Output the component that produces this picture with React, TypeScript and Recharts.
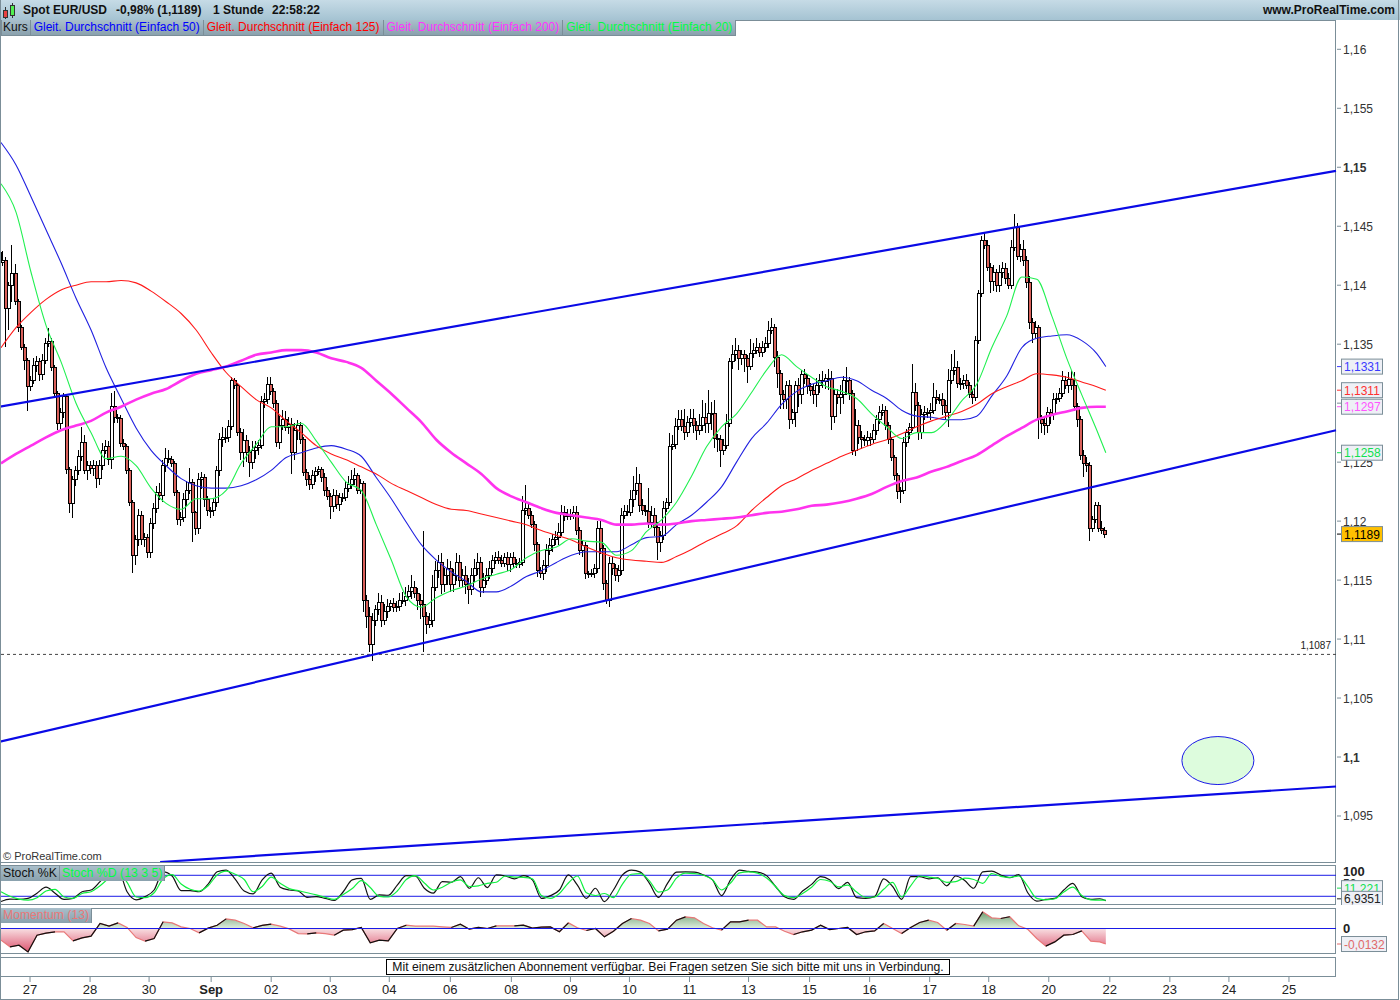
import React from "react";
import {
  Area,
  Bar,
  ComposedChart,
  Line,
  ReferenceDot,
  ReferenceLine,
  XAxis,
  YAxis,
} from "recharts";

// all prices are in pips (11189 = 1,1189), one candle per index
const closes = [
  11419, 11421, 11380, 11400, 11410, 11386, 11364, 11347, 11336, 11314,
  11319, 11332, 11335, 11324, 11336, 11351, 11352, 11330, 11308, 11283,
  11292, 11306, 11244, 11215, 11235, 11243, 11255, 11267, 11243, 11247,
  11245, 11247, 11236, 11247, 11260, 11263, 11252, 11297, 11288, 11287,
  11266, 11263, 11243, 11216, 11171, 11184, 11205, 11184, 11186, 11173,
  11198, 11211, 11224, 11222, 11247, 11253, 11252, 11249, 11224, 11201,
  11203, 11218, 11226, 11233, 11207, 11194, 11235, 11237, 11218, 11209,
  11209, 11216, 11243, 11269, 11271, 11271, 11280, 11319, 11315, 11275,
  11258, 11268, 11258, 11250, 11260, 11262, 11264, 11301, 11303, 11316,
  11310, 11300, 11267, 11281, 11286, 11279, 11282, 11258, 11277, 11281,
  11269, 11241, 11235, 11231, 11239, 11242, 11244, 11237, 11226, 11221,
  11212, 11222, 11214, 11220, 11220, 11228, 11231, 11235, 11239, 11226,
  11232, 11133, 11119, 11095, 11116, 11125, 11131, 11116, 11123, 11128,
  11130, 11127, 11128, 11133, 11133, 11136, 11140, 11144, 11139, 11133,
  11129, 11119, 11112, 11116, 11144, 11158, 11165, 11146, 11154, 11160,
  11146, 11154, 11165, 11150, 11154, 11146, 11142, 11154, 11160, 11165,
  11144, 11150, 11154, 11160, 11167, 11169, 11167, 11164, 11169, 11163,
  11169, 11164, 11163, 11165, 11209, 11211, 11205, 11197, 11180, 11158,
  11156, 11162, 11175, 11179, 11184, 11186, 11190, 11207, 11204, 11205,
  11205, 11207, 11192, 11175, 11179, 11156, 11156, 11156, 11160, 11194,
  11177, 11147, 11133, 11164, 11160, 11154, 11158, 11205, 11208, 11207,
  11218, 11226, 11232, 11213, 11209, 11208, 11199, 11205, 11195, 11182,
  11188, 11211, 11216, 11263, 11265, 11280, 11286, 11280, 11275, 11284,
  11287, 11281, 11277, 11281, 11288, 11283, 11291, 11291, 11270, 11269,
  11260, 11264, 11283, 11335, 11341, 11345, 11338, 11341, 11338, 11331,
  11342, 11345, 11347, 11343, 11347, 11351, 11362, 11364, 11339, 11325,
  11307, 11303, 11315, 11286, 11292, 11315, 11307, 11324, 11321, 11314,
  11311, 11307, 11315, 11319, 11318, 11321, 11321, 11289, 11307, 11305,
  11307, 11319, 11319, 11308, 11260, 11281, 11271, 11269, 11268, 11271,
  11269, 11277, 11286, 11292, 11294, 11281, 11269, 11254, 11239, 11225,
  11226, 11267, 11275, 11279, 11309, 11298, 11275, 11290, 11292, 11292,
  11294, 11305, 11303, 11303, 11298, 11292, 11319, 11328, 11330, 11317,
  11317, 11319, 11315, 11307, 11305, 11353, 11393, 11438, 11434, 11415,
  11403, 11411, 11400, 11411, 11414, 11406, 11400, 11432, 11449, 11424,
  11430, 11421, 11402, 11368, 11359, 11364, 11286, 11283, 11281, 11292,
  11290, 11303, 11304, 11308, 11319, 11315, 11320, 11315, 11297, 11286,
  11256, 11249, 11247, 11194, 11201, 11213, 11194, 11192, 11189,
];

const upperWicks = [
  6, 8, 3, 3, 24, 8, 2, 2, 3, 2,
  4, 6, 5, 3, 6, 4, 12, 3, 2, 2,
  4, 3, 2, 2, 3, 4, 5, 13, 6, 4,
  4, 5, 4, 5, 6, 6, 5, 12, 13, 3,
  3, 4, 2, 2, 2, 4, 5, 4, 4, 3,
  5, 4, 6, 8, 5, 9, 7, 3, 2, 2,
  5, 6, 8, 12, 3, 2, 6, 5, 3, 3,
  3, 4, 4, 6, 9, 8, 6, 3, 2, 2,
  4, 10, 5, 6, 8, 6, 5, 5, 6, 6,
  6, 3, 3, 8, 8, 7, 6, 5, 6, 5,
  3, 2, 3, 4, 4, 4, 3, 2, 4, 3,
  3, 5, 4, 4, 4, 6, 7, 8, 6, 2,
  4, 2, 4, 8, 6, 4, 8, 6, 7, 6,
  3, 5, 4, 6, 7, 8, 6, 10, 5, 4,
  5, 63, 4, 6, 10, 8, 6, 8, 6, 8,
  6, 5, 8, 6, 5, 8, 6, 6, 8, 8,
  5, 6, 6, 6, 4, 5, 6, 4, 4, 5,
  4, 5, 4, 4, 12, 20, 4, 4, 3, 2,
  3, 5, 6, 7, 5, 6, 8, 7, 6, 5,
  5, 6, 6, 3, 4, 3, 2, 3, 4, 6,
  8, 3, 3, 6, 6, 4, 5, 6, 6, 6,
  8, 12, 14, 8, 6, 5, 20, 8, 6, 4,
  4, 6, 4, 12, 8, 7, 8, 8, 15, 5,
  8, 8, 4, 10, 15, 12, 20, 10, 12, 4,
  4, 6, 8, 3, 8, 10, 4, 4, 4, 3,
  12, 6, 8, 4, 6, 5, 8, 8, 3, 5,
  3, 4, 4, 5, 3, 4, 6, 4, 5, 4,
  3, 5, 6, 6, 8, 4, 8, 6, 5, 5,
  8, 4, 12, 3, 3, 14, 5, 5, 4, 5,
  4, 5, 4, 6, 5, 4, 3, 2, 2, 2,
  3, 4, 3, 4, 24, 8, 3, 5, 6, 4,
  6, 12, 6, 5, 6, 5, 10, 14, 15, 6,
  4, 5, 6, 3, 4, 4, 3, 4, 6, 4,
  4, 6, 3, 6, 6, 5, 4, 6, 11, 4,
  5, 8, 4, 6, 4, 6, 2, 4, 4, 5,
  3, 6, 5, 5, 8, 4, 6, 8, 11, 3,
  3, 4, 5, 3, 3, 3, 3, 6, 3,
];

const lowerWicks = [
  5, 3, 32, 18, 14, 3, 4, 2, 8, 21,
  4, 3, 6, 5, 4, 3, 3, 3, 4, 6,
  5, 5, 4, 8, 12, 5, 4, 4, 3, 8,
  5, 7, 8, 5, 4, 3, 4, 8, 5, 4,
  3, 3, 3, 3, 15, 8, 5, 4, 6, 4,
  4, 5, 4, 4, 6, 5, 3, 3, 3, 4,
  5, 4, 5, 3, 25, 6, 5, 8, 6, 5,
  6, 5, 4, 5, 6, 5, 4, 3, 3, 3,
  6, 12, 8, 13, 6, 7, 6, 3, 5, 4,
  3, 4, 4, 6, 4, 3, 5, 18, 6, 8,
  4, 3, 5, 5, 4, 6, 3, 4, 5, 3,
  10, 4, 4, 5, 4, 3, 3, 4, 4, 3,
  3, 10, 10, 6, 14, 5, 5, 6, 4, 5,
  4, 4, 4, 4, 3, 5, 3, 6, 4, 8,
  12, 30, 8, 3, 6, 3, 6, 8, 6, 8,
  6, 6, 5, 6, 6, 8, 12, 5, 6, 6,
  8, 5, 4, 3, 4, 3, 3, 3, 3, 5,
  6, 4, 3, 3, 3, 4, 3, 3, 5, 5,
  4, 6, 5, 4, 5, 4, 6, 3, 4, 3,
  4, 3, 4, 4, 5, 5, 4, 3, 4, 4,
  5, 5, 3, 6, 6, 5, 6, 4, 3, 3,
  3, 6, 4, 5, 4, 4, 5, 5, 8, 15,
  8, 4, 3, 3, 3, 4, 3, 4, 6, 4,
  4, 6, 8, 4, 5, 8, 8, 14, 8, 10,
  14, 4, 3, 3, 6, 5, 10, 6, 12, 14,
  3, 4, 3, 4, 4, 4, 4, 3, 8, 12,
  12, 8, 8, 8, 4, 12, 10, 8, 5, 6,
  5, 8, 10, 6, 5, 6, 10, 12, 6, 6,
  14, 8, 12, 5, 4, 5, 6, 8, 4, 4,
  5, 3, 4, 4, 3, 4, 4, 3, 4, 6,
  10, 3, 4, 5, 3, 5, 6, 5, 4, 5,
  6, 3, 4, 4, 8, 6, 12, 3, 4, 4,
  6, 5, 3, 3, 6, 3, 3, 3, 3, 3,
  10, 8, 6, 6, 5, 5, 3, 3, 3, 3,
  4, 5, 4, 5, 8, 4, 16, 8, 8, 6,
  8, 4, 4, 3, 3, 3, 6, 4, 4, 6,
  4, 12, 5, 11, 3, 3, 3, 3, 3,
];

// moving averages, read every 5th candle plus the last one
const ma50 = [
  11521, 11502, 11475, 11447, 11419, 11389, 11362, 11330, 11304, 11279,
  11260, 11247, 11236, 11230, 11228, 11228, 11230, 11235, 11243, 11254,
  11258, 11262, 11264, 11261, 11255, 11237, 11219, 11199, 11180, 11167,
  11157, 11149, 11140, 11140, 11145, 11153, 11158, 11165, 11171, 11174,
  11174, 11174, 11180, 11186, 11187, 11197, 11205, 11216, 11229, 11250,
  11270, 11283, 11299, 11310, 11316, 11319, 11322, 11319, 11311, 11304,
  11294, 11289, 11288, 11286, 11286, 11289, 11306, 11323, 11347, 11355,
  11357, 11358, 11353, 11342, 11331,
];
const ma125 = [
  11347, 11364, 11377, 11388, 11396, 11400, 11403, 11403, 11404, 11402,
  11395, 11386, 11376, 11362, 11343, 11326, 11314, 11303, 11296, 11285,
  11275, 11264, 11257, 11252, 11246, 11240, 11232, 11226, 11220, 11214,
  11210, 11209, 11206, 11203, 11200, 11197, 11192, 11188, 11184, 11178,
  11173, 11169, 11167, 11166, 11165, 11170, 11176, 11183, 11189, 11196,
  11209, 11220, 11230, 11236, 11243, 11249, 11255, 11260, 11265, 11269,
  11274, 11280, 11285, 11289, 11293, 11299, 11308, 11314, 11319, 11325,
  11324, 11322, 11318, 11314, 11311,
];
const ma200 = [
  11249, 11257, 11264, 11271, 11277, 11281, 11285, 11292, 11297, 11303,
  11308, 11312, 11319, 11325, 11328, 11331, 11336, 11341, 11343, 11345,
  11345, 11343, 11338, 11335, 11330, 11319, 11308, 11296, 11284, 11269,
  11258, 11249, 11240, 11228, 11221, 11216, 11211, 11207, 11205, 11203,
  11201, 11197, 11197, 11198, 11197, 11198, 11200, 11201, 11202, 11203,
  11205, 11207, 11208, 11210, 11213, 11214, 11216, 11219, 11223, 11229,
  11234, 11237, 11242, 11246, 11251, 11256, 11264, 11272, 11279, 11286,
  11290, 11293, 11296, 11297, 11297,
];
const ma20 = [
  11486, 11462, 11411, 11366, 11335, 11300, 11275, 11253, 11255, 11247,
  11228, 11215, 11210, 11219, 11219, 11226, 11249, 11265, 11280, 11280,
  11283, 11268, 11250, 11233, 11226, 11197, 11167, 11136, 11127, 11135,
  11141, 11145, 11151, 11155, 11159, 11169, 11175, 11178, 11185, 11183,
  11182, 11171, 11175, 11191, 11201, 11216, 11238, 11263, 11280, 11291,
  11309, 11328, 11341, 11331, 11322, 11314, 11310, 11304, 11291, 11280,
  11270, 11275, 11275, 11285, 11302, 11316, 11347, 11374, 11407, 11405,
  11374, 11338, 11307, 11277, 11258,
];

// oscillators, read every 3rd candle plus the last one
const stochK = [
  5, 12, 11, 14, 29, 46, 29, 11, 14, 33,
  38, 62, 90, 95, 33, 10, 19, 38, 90, 78,
  36, 36, 33, 55, 90, 95, 69, 35, 27, 67,
  86, 46, 38, 35, 17, 19, 14, 8, 33, 67,
  71, 11, 24, 23, 52, 79, 78, 43, 29, 62,
  60, 76, 43, 73, 45, 81, 78, 70, 79, 67,
  14, 22, 38, 81, 52, 14, 43, 5, 38, 81,
  95, 89, 57, 17, 57, 89, 90, 89, 81, 67,
  22, 67, 95, 91, 89, 79, 48, 19, 11, 35,
  54, 76, 67, 42, 60, 16, 14, 19, 70, 48,
  11, 76, 76, 70, 73, 50, 78, 65, 43, 90,
  92, 81, 73, 82, 30, 6, 11, 14, 38, 57,
  19, 11, 13, 7,
];
const stochD = [
  33, 20, 12, 9, 16, 35, 40, 18, 14, 28,
  33, 50, 72, 88, 60, 18, 16, 30, 70, 82,
  55, 40, 35, 50, 81, 92, 83, 68, 33, 48,
  75, 57, 42, 36, 30, 24, 17, 11, 25, 42,
  65, 45, 20, 18, 35, 68, 79, 58, 38, 46,
  60, 67, 48, 50, 57, 60, 78, 75, 74, 70,
  22, 14, 28, 58, 78, 30, 22, 28, 16, 55,
  83, 85, 64, 32, 38, 72, 86, 85, 80, 67,
  38, 58, 87, 90, 86, 72, 48, 22, 16, 28,
  46, 68, 63, 47, 52, 32, 17, 18, 40, 60,
  18, 50, 78, 75, 71, 60, 62, 72, 68, 57,
  85, 77, 74, 78, 48, 14, 10, 13, 32, 46,
  22, 10, 9, 9,
];
const momentum = [
  -99, -156, -142, -199, -57, -40, -28, -28, -105, -80,
  -65, 43, 20, 48, 9, -77, -108, -85, 57, 48,
  14, 0, -37, 3, 28, 82, 71, 43, 6, 26,
  37, 20, -3, -43, -45, -37, -43, -57, -14, -9,
  9, -122, -99, -105, 0, 28, 20, 20, 20, 14,
  9, 37, -6, 9, 0, 23, 23, 23, 28, 3,
  11, 14, -28, 48, 6, -17, 0, -71, -23, 43,
  85, 71, 43, -20, -6, 71, 99, 91, 43, 6,
  -14, 57, 57, 71, 71, 14, 14, -23, -51, -28,
  -14, 28, -9, 0, 9, -51, -28, -20, 43, 0,
  -43, 9, 51, 71, 51, -14, 43, 34, 20, 142,
  91, 85, 100, 23, -6, -85, -150, -114, -57, -51,
  -20, -108, -114, -132,
];

const dayLabels = ["27", "28", "30", "Sep", "02", "03", "04", "06", "08", "09", "10", "11", "13", "15", "16", "17", "18", "20", "22", "23", "24", "25"];
const dayBars = [9.67, 29.67, 49.33, 70, 90, 109.67, 129.33, 149.67, 170, 189.67, 209.33, 229.33, 249, 269.33, 289.33, 309.33, 329, 349, 369.33, 389.33, 409, 429];

const priceTicks = [10950, 11000, 11050, 11100, 11150, 11200, 11250, 11300, 11350, 11400, 11450, 11500, 11550, 11600];
const priceTags = [11331, 11311, 11297, 11258, 11189];
const support = 11087;

// channel lines, candle index and price at both ends
const upperChannel = [{ x: -0.33, y: 11297 }, { x: 444.67, y: 11497 }];
const lowerChannel = [{ x: -0.33, y: 11013 }, { x: 444.67, y: 11277 }];
const baseChannel = [{ x: 53, y: 10911 }, { x: 444.67, y: 10975 }];

const XDOMAIN = [-0.33, 444.67];
const GREY = "#7b8e98";
const FONT = "'Liberation Sans', Arial, sans-serif";

const maAt = (list: number[], i: number) => {
  if (i === closes.length - 1) return list[list.length - 1];
  return i % 5 === 0 ? list[i / 5] : null;
};

const rows = closes.map((close, i) => {
  const open = i === 0 ? 11428 : closes[i - 1];
  const high = Math.max(open, close) + upperWicks[i];
  const low = Math.min(open, close) - lowerWicks[i];
  return {
    bar: i,
    open,
    close,
    high,
    low,
    range: [low, high],
    ma50: maAt(ma50, i),
    ma125: maAt(ma125, i),
    ma200: maAt(ma200, i),
    ma20: maAt(ma20, i),
  };
});

const oscRows = stochK.map((k, i) => {
  const m = momentum[i];
  const prev = momentum[i - 1];
  const next = momentum[i + 1];
  const rising = (prev !== undefined && m > prev) || (next !== undefined && next > m);
  return {
    bar: i === stochK.length - 1 ? closes.length - 1 : i * 3,
    k,
    d: stochD[i],
    mom: m,
    momRise: rising ? m : null,
  };
});

const Candle = (props: any) => {
  const { x, y, width, height, payload } = props;
  // the band offset of a number axis pushes the bar right, pull it back on the candle's own index
  const cx = Math.round(x + width / 2 - 1.5) + 0.5;
  const k = height / (payload.high - payload.low);
  const yOpen = y + (payload.high - payload.open) * k;
  const yClose = y + (payload.high - payload.close) * k;
  const top = Math.min(yOpen, yClose);
  const h = Math.max(Math.abs(yOpen - yClose), 1);
  const up = payload.close >= payload.open;
  return (
    <g shapeRendering="crispEdges">
      <line x1={cx} x2={cx} y1={y} y2={y + height} stroke="#000" />
      <rect x={cx - 1.5} y={top} width={3} height={h} fill={up ? "#fff" : "#d9605a"} stroke="#000" />
    </g>
  );
};

const Tag = ({ x, y, text, color, bg, wide }: any) => (
  <g>
    <line x1={x + 1} x2={x + 6} y1={y} y2={y} stroke={color} />
    <rect x={x + 5.5} y={y - 7.5} width={wide ? 45 : 41} height={15} fill={bg} stroke={GREY} />
    <text x={x + 8} y={y + 4.5} fontSize={12} fontFamily={FONT} fill={color}>{text}</text>
  </g>
);

const tagColors = ["#3a3aff", "#ff3030", "#ff55ff", "#10e050", "#000"];
const tagBg = ["#eef0f6", "#eef0f6", "#eef0f6", "#eef0f6", "#ffc000"];

const PriceTick = (props: any) => {
  const { x, y, payload } = props;
  const v = payload.value;
  const idx = priceTags.indexOf(v);
  if (idx >= 0) {
    const text = (v / 10000).toFixed(4).replace(".", ",");
    return <Tag x={x} y={y} text={text} color={tagColors[idx]} bg={tagBg[idx]} />;
  }
  const label = String(v / 10000).replace(".", ",");
  return (
    <g>
      <line x1={x + 1} x2={x + 5} y1={y} y2={y} stroke={GREY} />
      <text x={x + 7} y={y + 4.5} fontSize={12} fontFamily={FONT} fill="#333" fontWeight={v % 500 === 0 ? "bold" : "normal"}>{label}</text>
    </g>
  );
};

const StochTick = (props: any) => {
  const { x, y, payload } = props;
  const v = payload.value;
  if (v === 100) return <text x={x + 7} y={y + 8} fontSize={13} fontWeight="bold" fontFamily={FONT} fill="#222">100</text>;
  if (v === 50) return <text x={x + 7} y={y + 2} fontSize={12} fontFamily={FONT} fill="#333">50</text>;
  if (v === 9) return <Tag x={x} y={y - 12} text="11,221" color="#10e050" bg="#eef0f6" />;
  return <Tag x={x} y={y - 2} text="6,9351" color="#222" bg="#eef0f6" />;
};

const MomentumTick = (props: any) => {
  const { x, y, payload } = props;
  if (payload.value === 0) {
    return <text x={x + 7} y={y + 4} fontSize={13} fontWeight="bold" fontFamily={FONT} fill="#222">0</text>;
  }
  return <Tag x={x} y={y} text="-0,0132" color="#e06a6a" bg="#eef0f6" wide />;
};

const DayTick = (props: any) => {
  const { x, y, payload } = props;
  const idx = dayBars.indexOf(payload.value);
  const label = dayLabels[idx];
  return (
    <g>
      <line x1={x} x2={x} y1={y} y2={y + 5} stroke={GREY} />
      <text x={x} y={y + 17} textAnchor="middle" fontSize={13} fontFamily={FONT} fill="#222" fontWeight={label === "Sep" ? "bold" : "normal"}>{label}</text>
    </g>
  );
};

const Ellipse = (props: any) => (
  <ellipse cx={props.cx} cy={props.cy} rx={36} ry={24} fill="#ddfcdd" stroke="#1a1ae6" strokeWidth={1} />
);

const legendTabs = [
  ["Kurs", "#111", "0 2px 0 1px"],
  ["Gleit. Durchschnitt (Einfach 50)", "#0000ff", "0 3px"],
  ["Gleit. Durchschnitt (Einfach 125)", "#ff0000", "0 3px"],
  ["Gleit. Durchschnitt (Einfach 200)", "#ff33ff", "0 3px"],
  ["Gleit. Durchschnitt (Einfach 20)", "#00ff44", "0 3px"],
];

const tabStyle = (color: string, padding = "0 2px"): React.CSSProperties => ({
  color,
  padding,
  borderRight: `1px solid ${GREY}`,
  background: "linear-gradient(#a9bfcb, #8aa1ad)",
  whiteSpace: "nowrap",
  lineHeight: "15px",
  height: 15,
});

const panel = (top: number, height: number): React.CSSProperties => ({
  position: "absolute",
  left: 0,
  top,
  width: 1336,
  height,
  boxSizing: "border-box",
  border: `1px solid ${GREY}`,
});

export default function App() {
  return (
    <div style={{ position: "absolute", left: 0, top: 0, width: 1400, height: 1000, background: "#fff", fontFamily: FONT, overflow: "hidden" }}>
      {/* title bar */}
      <div style={{ position: "absolute", left: 0, top: 0, width: 1400, height: 20, background: "linear-gradient(#c6dbe6, #a5c3d2)", fontSize: 12, fontWeight: "bold", lineHeight: "21px", color: "#111" }}>
        <svg width={18} height={20} style={{ position: "absolute", left: 1, top: 0 }}>
          <line x1={4.5} x2={4.5} y1={7} y2={19} stroke="#333" />
          <rect x={2.5} y={10.5} width={4} height={7} fill="#e84040" stroke="#333" />
          <line x1={11.5} x2={11.5} y1={3} y2={18} stroke="#333" />
          <rect x={9.5} y={5.5} width={4} height={10} fill="#50f050" stroke="#333" />
        </svg>
        <span style={{ position: "absolute", left: 23 }}>Spot EUR/USD</span>
        <span style={{ position: "absolute", left: 116 }}>-0,98% (1,1189)</span>
        <span style={{ position: "absolute", left: 213 }}>1 Stunde</span>
        <span style={{ position: "absolute", left: 272 }}>22:58:22</span>
        <span style={{ position: "absolute", right: 5 }}>www.ProRealTime.com</span>
      </div>

      <div style={panel(20, 843)} />
      <div style={panel(865, 40)} />
      <div style={panel(908, 46)} />
      <div style={panel(957, 20)} />

      {/* price panel */}
      <div style={{ position: "absolute", left: 0, top: 21 }}>
        <ComposedChart width={1400} height={841} data={rows} margin={{ top: 0, right: 0, bottom: 0, left: 0 }}>
          <XAxis type="number" dataKey="bar" domain={XDOMAIN} allowDataOverflow hide />
          <YAxis
            orientation="right"
            width={64}
            domain={[10911, 11624]}
            allowDataOverflow
            ticks={[...priceTicks, ...priceTags]}
            interval={0}
            axisLine={false}
            tickLine={false}
            tickSize={0}
            tickMargin={0}
            tick={PriceTick}
          />
          <ReferenceLine y={support} stroke="#444" strokeDasharray="3 3" label={{ value: "1,1087", position: "insideBottomRight", fontSize: 10, fill: "#222", fontFamily: FONT }} />
          <Bar dataKey="range" barSize={3} shape={Candle} isAnimationActive={false} />
          <Line dataKey="ma50" connectNulls type="monotone" stroke="#2020e0" strokeWidth={1.1} dot={false} isAnimationActive={false} />
          <Line dataKey="ma125" connectNulls type="monotone" stroke="#ff1a1a" strokeWidth={1.1} dot={false} isAnimationActive={false} />
          <Line dataKey="ma200" connectNulls type="monotone" stroke="#ff33ee" strokeWidth={2.6} dot={false} isAnimationActive={false} />
          <Line dataKey="ma20" connectNulls type="monotone" stroke="#20f050" strokeWidth={1.1} dot={false} isAnimationActive={false} />
          <ReferenceLine segment={upperChannel} stroke="#0a0ae6" strokeWidth={2.2} />
          <ReferenceLine segment={lowerChannel} stroke="#0a0ae6" strokeWidth={2.2} />
          <ReferenceLine segment={baseChannel} stroke="#0a0ae6" strokeWidth={2.2} />
          <ReferenceDot x={405.33} y={10997} r={24} shape={Ellipse} />
        </ComposedChart>
      </div>

      {/* legend tabs */}
      <div style={{ position: "absolute", left: 1, top: 20, display: "flex", fontSize: 12, borderBottom: `1px solid ${GREY}`, borderLeft: `1px solid ${GREY}` }}>
        {legendTabs.map(([text, color, padding]) => (
          <div key={text} style={tabStyle(color, padding)}>{text}</div>
        ))}
      </div>
      <div style={{ position: "absolute", left: 3, top: 850, fontSize: 11, color: "#333" }}>© ProRealTime.com</div>

      {/* stochastic panel */}
      <div style={{ position: "absolute", left: 0, top: 865 }}>
        <ComposedChart width={1400} height={40} data={oscRows} margin={{ top: 0, right: 0, bottom: 0, left: 0 }}>
          <XAxis type="number" dataKey="bar" domain={XDOMAIN} allowDataOverflow hide />
          <YAxis orientation="right" width={64} domain={[-4.9, 109.4]} allowDataOverflow ticks={[100, 50, 9, 7]} interval={0} axisLine={false} tickLine={false} tickSize={0} tickMargin={0} tick={StochTick} />
          <ReferenceLine y={80} stroke="#1a1ae6" strokeWidth={1} />
          <ReferenceLine y={20} stroke="#1a1ae6" strokeWidth={1} />
          <Line dataKey="k" type="monotone" stroke="#111" strokeWidth={1.2} dot={false} isAnimationActive={false} />
          <Line dataKey="d" type="monotone" stroke="#10f040" strokeWidth={1.2} dot={false} isAnimationActive={false} />
        </ComposedChart>
      </div>
      <div style={{ position: "absolute", left: 1, top: 866, display: "flex", fontSize: 12.3 }}>
        <div style={tabStyle("#111")}>Stoch %K</div>
        <div style={tabStyle("#00ff44")}>Stoch %D (13 3 5)</div>
      </div>

      {/* momentum panel */}
      <div style={{ position: "absolute", left: 0, top: 908 }}>
        <ComposedChart width={1400} height={46} data={oscRows} margin={{ top: 0, right: 0, bottom: 0, left: 0 }}>
          <defs>
            <linearGradient id="momFill" x1="0" y1="0" x2="0" y2="1">
              <stop offset="0" stopColor="#6f9f70" />
              <stop offset="0.416" stopColor="#dfeee0" />
              <stop offset="0.416" stopColor="#f8dfe2" />
              <stop offset="1" stopColor="#dd5570" />
            </linearGradient>
          </defs>
          <XAxis type="number" dataKey="bar" domain={XDOMAIN} allowDataOverflow hide />
          <YAxis orientation="right" width={64} domain={[-217, 174.5]} allowDataOverflow ticks={[0, -132]} interval={0} axisLine={false} tickLine={false} tickSize={0} tickMargin={0} tick={MomentumTick} />
          <Area dataKey="mom" stroke="none" fill="url(#momFill)" fillOpacity={1} isAnimationActive={false} />
          <Line dataKey="mom" stroke="#e87878" strokeWidth={1.2} dot={false} isAnimationActive={false} />
          <Line dataKey="momRise" stroke="#111" strokeWidth={1.2} dot={false} isAnimationActive={false} />
          <ReferenceLine y={0} stroke="#1a1ae6" strokeWidth={1} />
        </ComposedChart>
      </div>
      <div style={{ position: "absolute", left: 1, top: 908, fontSize: 12.2, display: "flex" }}>
        <div style={tabStyle("#e87878")}>Momentum (13)</div>
      </div>

      {/* date axis and notice */}
      <div style={{ position: "absolute", left: 0, top: 957 }}>
        <ComposedChart width={1400} height={43} data={oscRows} margin={{ top: 0, right: 64, bottom: 0, left: 0 }}>
          <XAxis type="number" dataKey="bar" domain={XDOMAIN} allowDataOverflow height={23} ticks={dayBars} interval={0} axisLine={false} tickLine={false} tickSize={0} tickMargin={0} tick={DayTick} />
        </ComposedChart>
      </div>
      <div style={{ position: "absolute", left: 386, top: 959, width: 564, height: 16, boxSizing: "border-box", border: "1px solid #000", fontSize: 12.2, lineHeight: "14px", textAlign: "center", color: "#111", whiteSpace: "nowrap" }}>
        Mit einem zusätzlichen Abonnement verfügbar. Bei Fragen setzen Sie sich bitte mit uns in Verbindung.
      </div>

      {/* outer frame */}
      <div style={{ position: "absolute", left: 0, top: 0, width: 1399, height: 1000, boxSizing: "border-box", border: `1px solid ${GREY}`, borderTop: "none" }} />
    </div>
  );
}
